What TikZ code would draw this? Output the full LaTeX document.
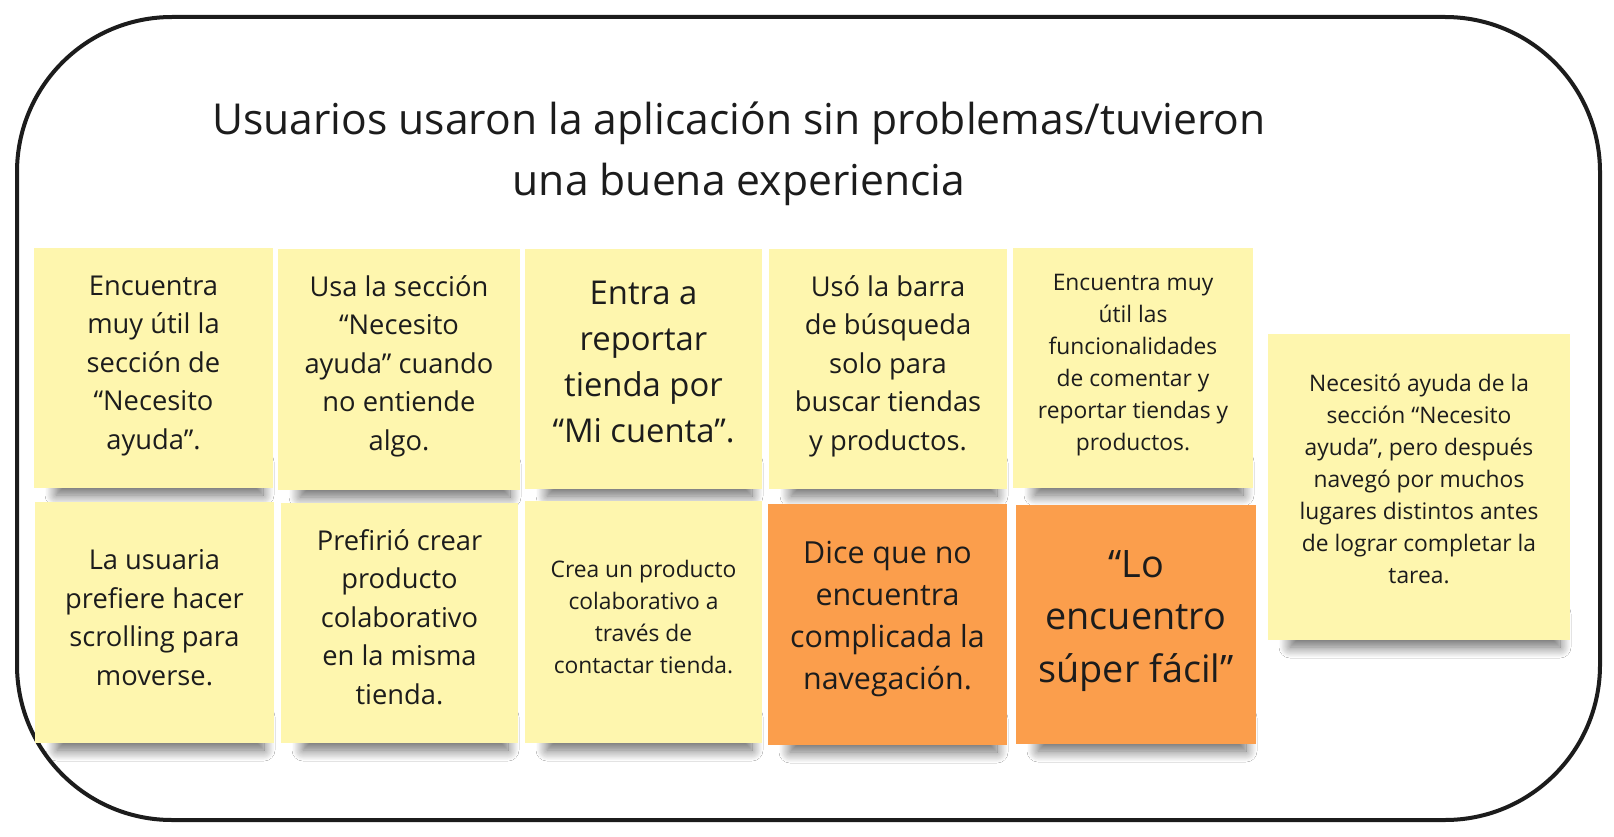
\documentclass[tikz,border=0pt]{standalone}
\usepackage{fontspec}
\setmainfont{Open Sans}
\usetikzlibrary{shadows.blur}
\definecolor{noteY}{HTML}{FEF6AE}
\definecolor{noteO}{HTML}{FB9E4C}
\definecolor{inkc}{HTML}{1C1C1C}
\tikzset{
  shadowband/.style={draw=none, blur shadow={shadow xshift=0pt, shadow yshift=0pt, shadow blur radius=11pt, shadow opacity=60, shadow blur steps=20}},
  notebox/.style={fill=noteY, draw=none},
  orangebox/.style={fill=noteO, draw=none},
  notetext/.style={align=center, text=inkc, inner sep=0pt},
  fsA/.style={font=\fontsize{27.3}{38.5}\selectfont},
  fsB/.style={font=\fontsize{32.8}{46}\selectfont},
  fsC/.style={font=\fontsize{22.8}{32}\selectfont},
  fsD/.style={font=\fontsize{30.4}{42}\selectfont},
  fsE/.style={font=\fontsize{37.8}{52.5}\selectfont},
}
\newcommand{\stickypaper}[5]{%
  \path[shadowband] (#1+22,#4-26) rectangle (#3-10,#4+7);
  \path[#5] (#1,#2) rectangle (#3,#4);
}
\begin{document}
\begin{tikzpicture}[x=1pt,y=-1pt]
\useasboundingbox (0,0) rectangle (1614,837);
\fill[white] (0,0) rectangle (1614,837);
\draw[line width=4pt, draw=inkc, rounded corners=155pt] (17,17) rectangle (1600,820);
\node[notetext, font=\fontsize{42.6}{61}\selectfont] (title) at (739,154) {Usuarios usaron la aplicación sin problemas/tuvieron\\una buena experiencia};
% row 1
\stickypaper{34}{248}{273}{488}{notebox}
\node[notetext, fsA] (n1) at (153.5,366) {Encuentra\\muy útil la\\sección de\\“Necesito\\ayuda”.};
\stickypaper{278}{249}{520}{490}{notebox}
\node[notetext, fsA] (n2) at (399,366) {Usa la sección\\“Necesito\\ayuda” cuando\\no entiende\\algo.};
\stickypaper{525}{249}{762}{489}{notebox}
\node[notetext, fsB] (n3) at (643.5,362.5) {Entra a\\reportar\\tienda por\\“Mi cuenta”.};
\stickypaper{769}{249}{1007}{489}{notebox}
\node[notetext, fsA] (n4) at (888,366) {Usó la barra\\de búsqueda\\solo para\\buscar tiendas\\y productos.};
\stickypaper{1013}{248}{1253}{488}{notebox}
\node[notetext, fsC] (n5) at (1133,365.5) {Encuentra muy\\útil las\\funcionalidades\\de comentar y\\reportar tiendas y\\productos.};
% row 2
\stickypaper{35}{502}{274}{743}{notebox}
\node[notetext, fsA] (m1) at (154.5,617.5) {La usuaria\\prefiere hacer\\scrolling para\\moverse.};
\stickypaper{281}{503}{518}{743}{notebox}
\node[notetext, fsA] (m2) at (399.5,617) {Prefirió crear\\producto\\colaborativo\\en la misma\\tienda.};
\stickypaper{525}{501}{762}{743}{notebox}
\node[notetext, fsC] (m3) at (643.5,616.5) {Crea un producto\\colaborativo a\\través de\\contactar tienda.};
\stickypaper{768}{504}{1007}{745}{orangebox}
\node[notetext, fsD] (o1) at (887.5,618.5) {Dice que no\\encuentra\\complicada la\\navegación.};
\stickypaper{1016}{505}{1256}{744}{orangebox}
\node[notetext, fsE] (o2) at (1136,621) {“Lo\\encuentro\\súper fácil”};
% right note
\stickypaper{1268}{334}{1570}{640}{notebox}
\node[notetext, fsC] (r1) at (1419,479) {Necesitó ayuda de la\\sección “Necesito\\ayuda”, pero después\\navegó por muchos\\lugares distintos antes\\de lograr completar la\\tarea.};
\end{tikzpicture}
\end{document}
